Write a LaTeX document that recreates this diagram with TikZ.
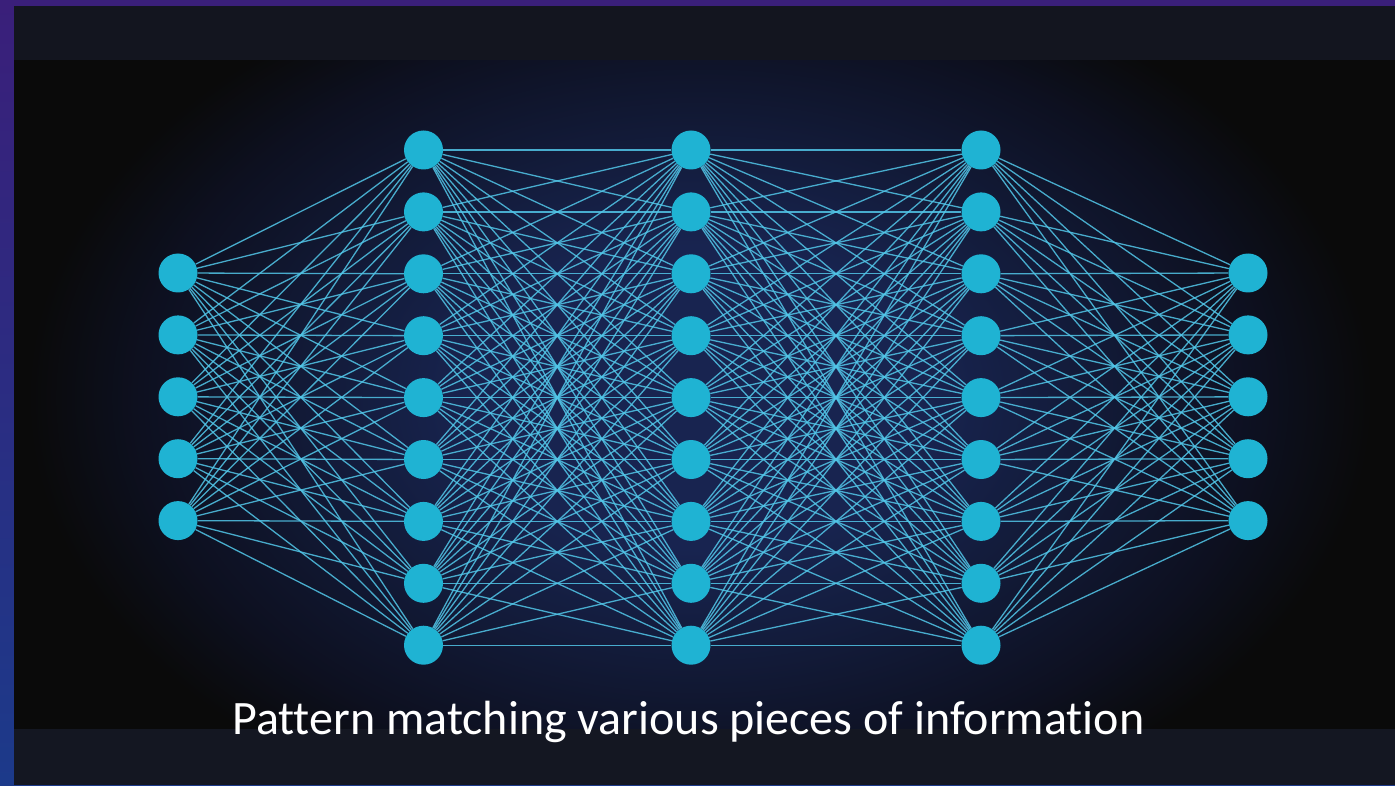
\documentclass[tikz,border=0pt]{standalone}
\usepackage{fontspec}
\setmainfont{Carlito}[RawFeature={-liga;-clig;-dlig}]
\definecolor{stripTop}{HTML}{3A1F7A}
\definecolor{stripBot}{HTML}{1C3A8A}
\definecolor{bandc}{HTML}{13151F}
\definecolor{bandb}{HTML}{141722}
\definecolor{blk}{HTML}{0A0A0A}
\definecolor{navyA}{HTML}{182450}
\definecolor{navyB}{HTML}{131C3C}
\definecolor{navyC}{HTML}{0D1020}
\definecolor{nodec}{HTML}{1FB3D3}
\definecolor{edgec}{HTML}{52C6E8}
\pgfdeclareradialshading{glow}{\pgfpoint{0bp}{0bp}}{color(0bp)=(navyA); color(8bp)=(navyA); color(13bp)=(navyB); color(20bp)=(navyC); color(24bp)=(blk); color(50bp)=(blk)}
\tikzset{
  neuron/.style={circle, fill=nodec, minimum size=39pt, inner sep=0pt},
  synapse/.style={draw=edgec, line width=1.3pt, draw opacity=0.85},
}
\begin{document}
\begin{tikzpicture}[x=1pt,y=-1pt]
\useasboundingbox (0,0) rectangle (1395,786);
% outer strip
\shade[top color=stripTop, bottom color=stripBot] (0,0) rectangle (1395,786);
% top band
\fill[bandc] (14,6) rectangle (1395,61);
% image area with glow
\fill[blk] (14,61) rectangle (1395,729);
\begin{scope}
  \clip (14,61) rectangle (1395,729);
  \shade[shading=glow] (0,-75) rectangle (1400,870);
\end{scope}
% bottom band
\fill[bandb] (14,729) rectangle (1395,785);
% layers
\foreach \i [evaluate=\i as \yy using 273+(\i-1)*61.9] in {1,...,5} {
  \node[neuron] (A\i) at (178,\yy) {};
  \node[neuron] (E\i) at (1248,\yy) {};
}
\foreach \i [evaluate=\i as \yy using 150+(\i-1)*61.9] in {1,...,9} {
  \node[neuron] (B\i) at (423.5,\yy) {};
  \node[neuron] (C\i) at (691,\yy) {};
  \node[neuron] (D\i) at (981,\yy) {};
}
% connections
\foreach \i in {1,...,5} {
  \foreach \j in {1,...,9} {
    \draw[synapse] (A\i) -- (B\j);
    \draw[synapse] (D\j) -- (E\i);
  }
}
\foreach \i in {1,...,9} {
  \foreach \j in {1,...,9} {
    \draw[synapse] (B\i) -- (C\j);
    \draw[synapse] (C\i) -- (D\j);
  }
}
% caption
\node[anchor=base west, inner sep=0pt, text=white, font=\fontsize{48}{52}\selectfont] (cap) at (232,734) {Pattern matching various pieces of information};
\end{tikzpicture}
\end{document}
